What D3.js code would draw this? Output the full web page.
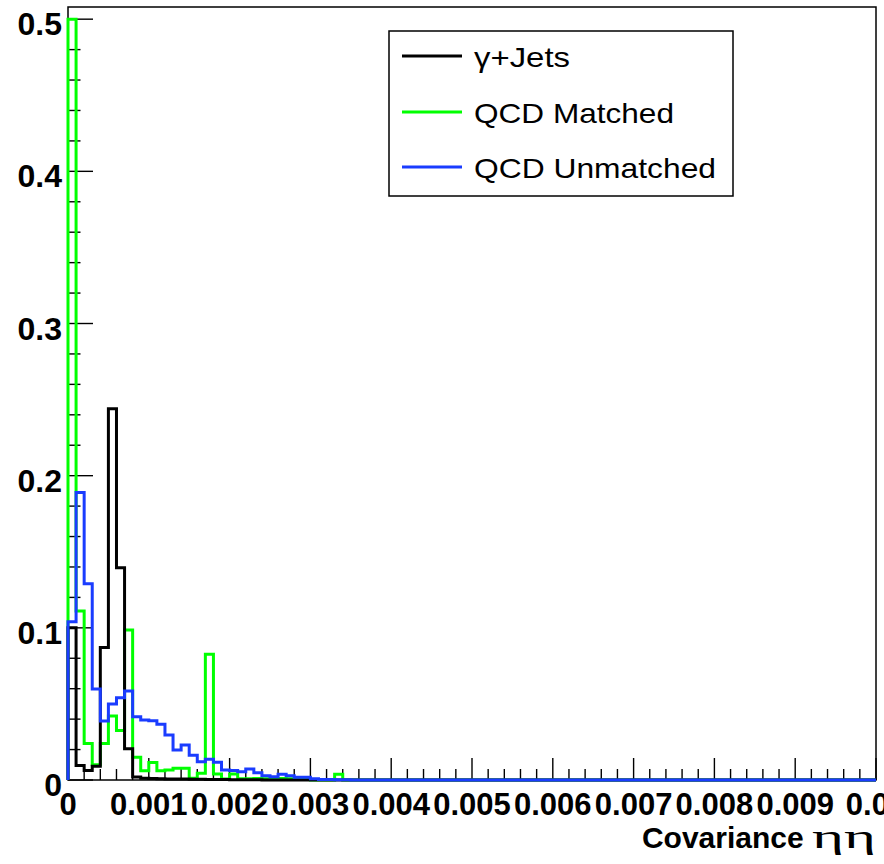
<!DOCTYPE html>
<html>
<head>
<meta charset="utf-8">
<script src="https://cdn.jsdelivr.net/npm/d3@7"></script>
<style>
  html, body { margin: 0; padding: 0; background: #fff; }
  svg { display: block; }
</style>
</head>
<body>
<svg id="chart" width="884" height="864"></svg>
<script>
// ---- data (100 bins of width 0.0001 from 0 to 0.01) ----
const binEdgesLow = 0;
const binEdgesHigh = 0.01;
const nBins = 100;

const seriesNames = ["\u03b3+Jets", "QCD Matched", "QCD Unmatched"];
const seriesColors = ["#000000", "#00ff00", "#1a3cff"];

const gammaJets = [
  0.100, 0.0095, 0.0062, 0.009, 0.087, 0.244, 0.1395, 0.0206, 0.002, 0.0012,
  0.001, 0.0008, 0.0007, 0.0006, 0.0006, 0.0005, 0.0005, 0.0004, 0.0003, 0.0003,
  0.0002, 0.0002, 0.0001, 0.0001, 0, 0, 0, 0, 0, 0,
  0, 0, 0, 0, 0, 0, 0, 0, 0, 0,
  0, 0, 0, 0, 0, 0, 0, 0, 0, 0,
  0, 0, 0, 0, 0, 0, 0, 0, 0, 0,
  0, 0, 0, 0, 0, 0, 0, 0, 0, 0,
  0, 0, 0, 0, 0, 0, 0, 0, 0, 0,
  0, 0, 0, 0, 0, 0, 0, 0, 0, 0,
  0, 0, 0, 0, 0, 0, 0, 0, 0, 0
];

const qcdMatched = [
  0.500, 0.111, 0.024, 0.010, 0.024, 0.042, 0.0325, 0.0986, 0.015, 0.006,
  0.0115, 0.006, 0.0066, 0.0077, 0.0077, 0.0011, 0.0044, 0.0826, 0.004, 0.0007,
  0.004, 0.0008, 0.0008, 0.001, 0.0008, 0.0008, 0.001, 0.0008, 0.0006, 0.0005,
  0, 0, 0, 0.0037, 0, 0, 0, 0, 0, 0,
  0, 0, 0, 0, 0, 0, 0, 0, 0, 0,
  0, 0, 0, 0, 0, 0, 0, 0, 0, 0,
  0, 0, 0, 0, 0, 0, 0, 0, 0, 0,
  0, 0, 0, 0, 0, 0, 0, 0, 0, 0,
  0, 0, 0, 0, 0, 0, 0, 0, 0, 0,
  0, 0, 0, 0, 0, 0, 0, 0, 0, 0
];

const qcdUnmatched = [
  0.104, 0.189, 0.129, 0.0598, 0.0388, 0.050, 0.054, 0.0585, 0.0415, 0.0395,
  0.039, 0.0367, 0.0296, 0.0197, 0.023, 0.0162, 0.012, 0.0136, 0.0116, 0.0066,
  0.0062, 0.0055, 0.0072, 0.0047, 0.0028, 0.0022, 0.0037, 0.0028, 0.0018, 0.0018,
  0.0008, 0.0004, 0.0003, 0.0002, 0.0001, 0, 0, 0, 0, 0,
  0, 0, 0, 0, 0, 0, 0, 0, 0, 0,
  0, 0, 0, 0, 0, 0, 0, 0, 0, 0,
  0, 0, 0, 0, 0, 0, 0, 0, 0, 0,
  0, 0, 0, 0, 0, 0, 0, 0, 0, 0,
  0, 0, 0, 0, 0, 0, 0, 0, 0, 0,
  0, 0, 0, 0, 0, 0, 0, 0, 0, 0
];

const xTickValues = [0, 0.001, 0.002, 0.003, 0.004, 0.005, 0.006, 0.007, 0.008, 0.009, 0.01];
const xTickLabels = ["0", "0.001", "0.002", "0.003", "0.004", "0.005", "0.006", "0.007", "0.008", "0.009", "0.01"];
const yTickValues = [0, 0.1, 0.2, 0.3, 0.4, 0.5];
const yTickLabels = ["0", "0.1", "0.2", "0.3", "0.4", "0.5"];
const xTitle = "Covariance ";
const xTitleSymbol = "\u03b7\u03b7";

// ---- layout ----
const frame = { left: 68, right: 876, top: 7, bottom: 780 };
const svg = d3.select("#chart");

const x = d3.scaleLinear().domain([binEdgesLow, binEdgesHigh]).range([frame.left, frame.right]);
const y = d3.scaleLinear().domain([0, 0.508]).range([frame.bottom, frame.top]);
const binW = (binEdgesHigh - binEdgesLow) / nBins;

// clip
svg.append("defs").append("clipPath").attr("id", "plotclip")
  .append("rect").attr("x", frame.left - 2).attr("y", frame.top)
  .attr("width", frame.right - frame.left + 4).attr("height", frame.bottom - frame.top + 2);

// frame
svg.append("rect")
  .attr("x", frame.left).attr("y", frame.top)
  .attr("width", frame.right - frame.left).attr("height", frame.bottom - frame.top)
  .attr("fill", "none").attr("stroke", "#000").attr("stroke-width", 1.5);

// y ticks (major every 0.1, minor every 0.02) pointing right
const yMinor = d3.range(0, 0.5001, 0.02);
svg.append("g").selectAll("line").data(yMinor).join("line")
  .attr("x1", frame.left).attr("x2", d => frame.left + (Math.abs(d * 10 - Math.round(d * 10)) < 1e-6 ? 25 : 12.5))
  .attr("y1", d => y(d)).attr("y2", d => y(d))
  .attr("stroke", "#000").attr("stroke-width", 1.4);

// x ticks (major every 0.001, minor every 0.0002) pointing up
const xMinor = d3.range(0, 0.01 + 1e-9, 0.0002);
svg.append("g").selectAll("line").data(xMinor).join("line")
  .attr("x1", d => x(d)).attr("x2", d => x(d))
  .attr("y1", frame.bottom)
  .attr("y2", d => frame.bottom - (Math.abs(d * 1000 - Math.round(d * 1000)) < 1e-6 ? 22 : 11))
  .attr("stroke", "#000").attr("stroke-width", 1.4);

// histograms
function histPath(vals) {
  const pts = [[x(binEdgesLow), y(0)]];
  vals.forEach((v, i) => {
    const x0 = binEdgesLow + i * binW, x1 = x0 + binW;
    pts.push([x(x0), y(v)]);
    pts.push([x(x1), y(v)]);
  });
  pts.push([x(binEdgesHigh), y(0)]);
  return d3.line()(pts);
}

const drawOrder = [
  { vals: qcdMatched, color: seriesColors[1] },
  { vals: gammaJets, color: seriesColors[0] },
  { vals: qcdUnmatched, color: seriesColors[2] }
];
const gH = svg.append("g").attr("clip-path", "url(#plotclip)");
drawOrder.forEach(s => {
  gH.append("path").attr("d", histPath(s.vals))
    .attr("fill", "none").attr("stroke", s.color)
    .attr("stroke-width", 3).attr("stroke-linejoin", "miter");
});

// y labels
svg.append("g").selectAll("text").data(yTickValues).join("text")
  .attr("x", 62).attr("y", d => y(d) + 16)
  .attr("text-anchor", "end")
  .attr("font-family", "Liberation Sans, Arial, sans-serif")
  .attr("font-weight", "bold").attr("font-size", 32)
  .text((d, i) => yTickLabels[i]);

// x labels
svg.append("g").selectAll("text").data(xTickValues).join("text")
  .attr("x", d => x(d)).attr("y", 815)
  .attr("text-anchor", "middle")
  .attr("font-family", "Liberation Sans, Arial, sans-serif")
  .attr("font-weight", "bold").attr("font-size", 31)
  .text((d, i) => xTickLabels[i]);

// x title
const tt = svg.append("text")
  .attr("x", 876).attr("y", 848).attr("text-anchor", "end")
  .attr("font-family", "Liberation Sans, Arial, sans-serif")
  .attr("font-size", 30);
tt.append("tspan").attr("font-weight", "bold").text(xTitle);
tt.append("tspan").attr("font-family", "Liberation Serif, serif")
  .attr("font-size", 33).attr("textLength", 64).attr("lengthAdjust", "spacingAndGlyphs")
  .text(xTitleSymbol);

// legend
const leg = svg.append("g");
leg.append("rect").attr("x", 389).attr("y", 31).attr("width", 344).attr("height", 165)
  .attr("fill", "#fff").attr("stroke", "#000").attr("stroke-width", 1.5);
const legY = [56, 112, 167];
const legLen = [96, 200, 242];
seriesNames.forEach((name, i) => {
  leg.append("line").attr("x1", 402).attr("x2", 462).attr("y1", legY[i]).attr("y2", legY[i])
    .attr("stroke", seriesColors[i]).attr("stroke-width", 3);
  leg.append("text").attr("x", 474).attr("y", legY[i] + 11)
    .attr("font-family", "Liberation Sans, Arial, sans-serif").attr("font-size", 28)
    .attr("textLength", legLen[i]).attr("lengthAdjust", "spacingAndGlyphs")
    .text(name);
});
</script>
</body>
</html>
